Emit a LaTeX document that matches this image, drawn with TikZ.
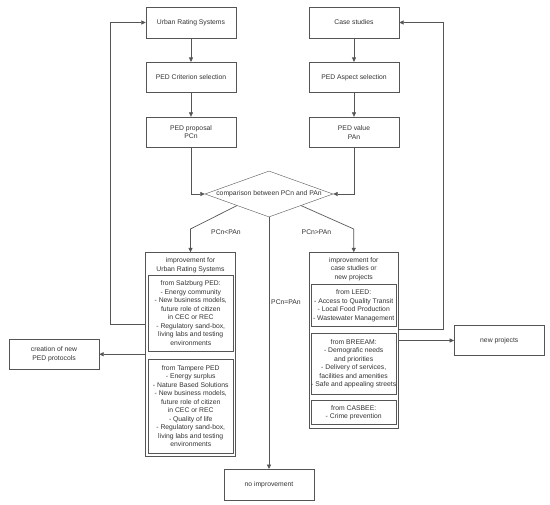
\documentclass[tikz,border=0pt]{standalone}
\usepackage{fontspec}
\setmainfont{Liberation Sans}
\usepackage{tikz}
\usetikzlibrary{arrows.meta,positioning,shapes.geometric}
\definecolor{ink}{HTML}{333333}
\definecolor{edge}{HTML}{555555}

\begin{document}
\begin{tikzpicture}[
  x=1pt,y=-1pt,
  every node/.style={font=\fontsize{6.8}{8.5}\selectfont,text=ink},
  box/.style={draw=edge,fill=white,minimum width=90pt,minimum height=30.5pt,align=center,inner sep=0pt},
  panel/.style={draw=edge,minimum width=85.5pt,align=center,inner sep=0pt},
  gate/.style={draw=edge,diamond,aspect=2.8,minimum width=128pt,minimum height=46pt,inner sep=0pt,align=center},
  tag/.style={inner sep=0pt,align=center},
  arrow/.style={-{Triangle[length=4.5pt,width=4pt]},line width=0.7pt,draw=edge}
]
\fill[white] (0,0) rectangle (550,505);
\useasboundingbox (0,0) rectangle (550,505);
\node[box] (urs) at (191,22.5) {Urban Rating Systems};
\node[box,below=24pt of urs] (crit) {PED Criterion selection};
\node[box,below=24pt of crit] (prop) {PED proposal\\PCn};
\node[box] (case) at (354,22.5) {Case studies};
\node[box,below=24pt of case] (aspect) {PED Aspect selection};
\node[box,below=24pt of aspect] (value) {PED value\\PAn};
\node[gate] (cmp) at (269,194) {comparison between PCn and PAn};
\node[box,minimum height=203.5pt] (limp) at (190.5,354.25) {};
\node[tag] (lhead) at (190.5,265) {improvement for\\Urban Rating Systems};
\node[panel,minimum height=76pt] (salz) at (190.75,313) {from Salzburg PED:\\- Energy community\\- New business models,\\future role of citizen\\in CEC or REC\\- Regulatory sand-box,\\living labs and testing\\environments};
\node[panel,minimum height=94pt] (tamp) at (190.75,406) {from Tampere PED\\- Energy surplus\\- Nature Based Solutions\\- New business models,\\future role of citizen\\in CEC or REC\\- Quality of life\\- Regulatory sand-box,\\living labs and testing\\environments};
\node[box,minimum width=89.5pt,minimum height=176pt] (rimp) at (353.75,340.5) {};
\node[tag] (rhead) at (353.75,269.2) {improvement for\\case studies or\\new projects};
\node[panel,minimum width=84.7pt,minimum height=42.4pt] (leed) at (353.7,305.5) {from LEED:\\- Access to Quality Transit\\- Local Food Production\\- Wastewater Management};
\node[panel,minimum width=84.7pt,minimum height=60.7pt] (breeam) at (353.7,363.7) {from BREEAM:\\- Demografic needs\\and priorities\\- Delivery of services,\\facilities and amenities\\- Safe and appealing streets};
\node[panel,minimum width=84.7pt,minimum height=23.6pt] (casbee) at (353.7,412.5) {from CASBEE:\\- Crime prevention};
\node[box,minimum height=30pt] (create) at (54,354.25) {creation of new\\PED protocols};
\node[box,minimum height=30pt] (newp) at (499.3,340.5) {new projects};
\node[box] (noimp) at (269,484.5) {no improvement};
\node[tag] (lt) at (226,232.5) {PCn<PAn};
\node[tag] (gt) at (316.5,232.5) {PCn>PAn};
\node[tag] (eq) at (286,302) {PCn=PAn};
\coordinate (lturn) at (190.5,229);
\coordinate (rturn) at (353.75,229);
\draw[arrow] (urs) -- (crit);
\draw[arrow] (crit) -- (prop);
\draw[arrow] (case) -- (aspect);
\draw[arrow] (aspect) -- (value);
\draw[arrow] (prop) |- (cmp.west);
\draw[arrow] (value) |- (cmp.east);
\draw[arrow] (cmp.south west) -- (lturn) -- (limp);
\draw[arrow] (cmp.south east) -- (rturn) -- (rimp);
\draw[arrow] (cmp) -- (noimp);
\draw[arrow] ([yshift=30pt]limp.west) -- ++(-35,0) |- (urs);
\draw[arrow] (limp.west) -- (create.east);
\draw[arrow] ([yshift=11.5pt]rimp.east) -- ++(44.5,0) |- (case);
\draw[arrow] (rimp.east) -- (newp.west);
\end{tikzpicture}
\end{document}
